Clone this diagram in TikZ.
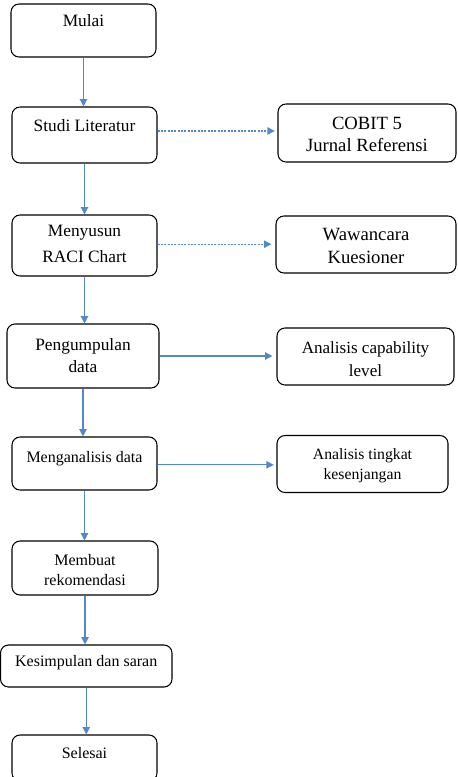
\documentclass[tikz,border=0pt]{standalone}
\usepackage{fontspec}
\setmainfont{Liberation Serif}
\newfontfamily\tnrfont{Liberation Serif}
\usetikzlibrary{arrows.meta}
\definecolor{arrowblue}{RGB}{84,136,204}
\begin{document}
\begin{tikzpicture}[x=0.75pt,y=-0.75pt,
  box/.style={draw=black, line width=0.8pt, rounded corners=6pt, inner sep=0pt},
  sz/.style 2 args={minimum width=#1*0.75pt, minimum height=#2*0.75pt},
  txt/.style={anchor=base, inner sep=0pt, font=\tnrfont\fontsize{#1}{#1}\selectfont},
  flow/.style={draw=arrowblue, line width=0.9pt, -{Triangle[length=5.5pt,width=5.5pt]}},
  dflow/.style={flow, dash pattern=on 1.5pt off 1pt}]
\useasboundingbox (0,0) rectangle (457,777);

% left column boxes
\node[box, sz={145}{53}] (mulai) at (83.5,30.5) {};
\node[txt=13pt] (mulai-t) at (83.5,27) {Mulai};

\node[box, sz={145}{56}] (studi) at (84.5,135) {};
\node[txt=13pt] (studi-t) at (84.5,132) {Studi Literatur};

\node[box, sz={145}{61}] (raci) at (84.5,245.5) {};
\node[txt=13pt] (raci-t1) at (84.5,237) {Menyusun};
\node[txt=13pt] (raci-t2) at (84.5,262) {RACI Chart};

\node[box, sz={152}{64}] (peng) at (83,356) {};
\node[txt=13pt] (peng-t1) at (83,350) {Pengumpulan};
\node[txt=13pt] (peng-t2) at (83,372) {data};

\node[box, sz={145}{53}] (meng) at (84.5,463.5) {};
\node[txt=12pt] (meng-t) at (84.5,462) {Menganalisis data};

\node[box, sz={146}{54}] (memb) at (85,568) {};
\node[txt=12pt] (memb-t1) at (85,565) {Membuat};
\node[txt=12pt] (memb-t2) at (85,585) {rekomendasi};

\node[box, sz={171.5}{42}] (kes) at (86.25,666) {};
\node[txt=12pt] (kes-t) at (86.25,666) {Kesimpulan dan saran};

\node[box, sz={145}{46}] (sel) at (84.5,758) {};
\node[txt=12pt] (sel-t) at (84.5,758) {Selesai};

% right column boxes
\node[box, sz={178}{58}] (cobit) at (367,133) {};
\node[txt=14pt] (cobit-t1) at (367,130) {COBIT 5};
\node[txt=14pt] (cobit-t2) at (367,151.5) {Jurnal Referensi};

\node[box, sz={180}{57}] (waw) at (366,244.5) {};
\node[txt=14pt] (waw-t1) at (366,240) {Wawancara};
\node[txt=14pt] (waw-t2) at (366,263) {Kuesioner};

\node[box, sz={177}{57}] (cap) at (365.5,356.5) {};
\node[txt=12.8pt] (cap-t1) at (365.5,353) {Analisis capability};
\node[txt=12.8pt] (cap-t2) at (365.5,376) {level};

\node[box, sz={171}{57}] (ting) at (362.5,464) {};
\node[txt=11.8pt] (ting-t1) at (362.5,459) {Analisis tingkat};
\node[txt=11.8pt] (ting-t2) at (362.5,479) {kesenjangan};

% vertical flow
\draw[flow] (mulai.south) -- (mulai.south |- studi.north);
\draw[flow] (studi.south) -- (studi.south |- raci.north);
\draw[flow] (raci.south) -- (raci.south |- peng.north);
\draw[flow] (peng.south) -- (peng.south |- meng.north);
\draw[flow] (meng.south) -- (meng.south |- memb.north);
\draw[flow] (memb.south) -- (memb.south |- kes.north);
\draw[flow] (kes.south) -- (kes.south |- sel.north);

% horizontal links
\draw[dflow, shorten >=2pt] ([yshift=3pt]studi.east) -- ([yshift=3pt]studi.east -| cobit.west);
\draw[dflow, shorten >=3pt] ([yshift=1pt]raci.east) -- ([yshift=1pt]raci.east -| waw.west);
\draw[flow, shorten >=3pt] (peng.east) -- (peng.east -| cap.west);
\draw[flow, shorten >=2pt] ([yshift=-1pt]meng.east) -- ([yshift=-1pt]meng.east -| ting.west);
\end{tikzpicture}
\end{document}
